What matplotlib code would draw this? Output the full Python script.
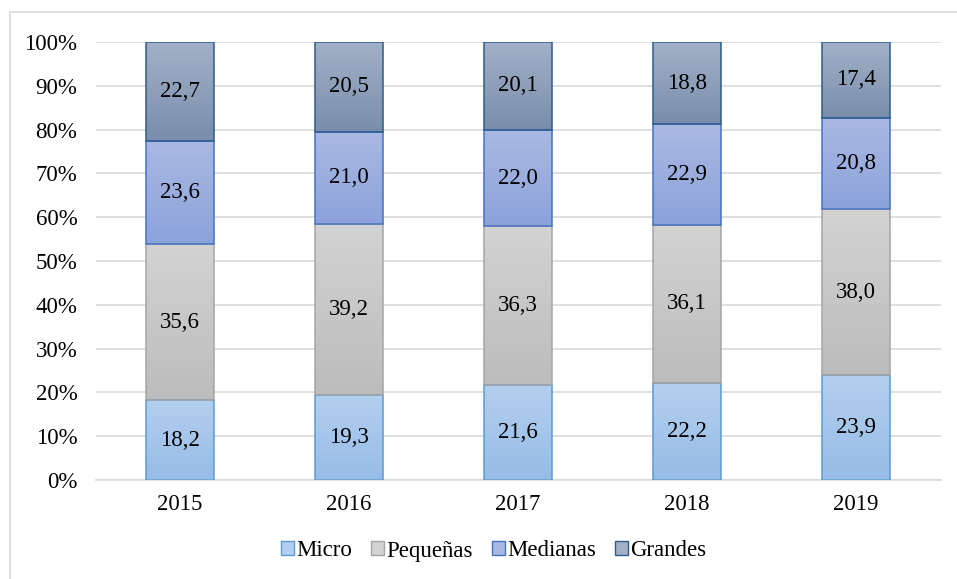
import numpy as np
import matplotlib
matplotlib.use("Agg")
import matplotlib.pyplot as plt
from matplotlib.patches import Rectangle, Patch
from matplotlib.colors import LinearSegmentedColormap
from matplotlib.ticker import FuncFormatter, MultipleLocator

plt.rcParams['font.family'] = ['Liberation Serif', 'DejaVu Serif']

years = ["2015", "2016", "2017", "2018", "2019"]
micro = [18.2, 19.3, 21.6, 22.2, 23.9]
pequenas = [35.6, 39.2, 36.3, 36.1, 38.0]
medianas = [23.6, 21.0, 22.0, 22.9, 20.8]
grandes = [22.7, 20.5, 20.1, 18.8, 17.4]

series_names = ["Micro", "Pequeñas", "Medianas", "Grandes"]
series_vals = [micro, pequenas, medianas, grandes]
# (top colour, bottom colour, edge colour)
styles = [
    ("#B3CFEF", "#97BCE6", "#5B9BD5"),
    ("#D3D3D3", "#BCBCBC", "#A5A5A5"),
    ("#AAB9E3", "#8CA2DA", "#4472C4"),
    ("#A3B1C7", "#798EAC", "#2E5D8A"),
]
FS = 16.5

fig = plt.figure(figsize=(9.57, 5.79), dpi=100)
ax = fig.add_axes([0.0998, 0.171, 0.8830, 0.7565])

# outer frame of the chart area (runs off the right and bottom edges)
fig.patches.append(Rectangle((10 / 957, -0.05), 1.1, 1.05 - 12 / 579, transform=fig.transFigure,
                             fill=False, edgecolor="#D9D9D9", linewidth=1.2, zorder=0))

x = np.arange(len(years))
width = 0.40
grad = np.linspace(0, 1, 256).reshape(-1, 1)

bottoms = np.zeros(len(years))
for name, vals, (ctop, cbot, cedge) in zip(series_names, series_vals, styles):
    cmap = LinearSegmentedColormap.from_list(name, [cbot, ctop])
    for i, v in enumerate(vals):
        b = bottoms[i]
        rect = Rectangle((x[i] - width / 2, b), width, v, facecolor="none",
                         edgecolor=cedge, linewidth=1.1, zorder=3)
        ax.add_patch(rect)
        im = ax.imshow(grad, cmap=cmap, aspect="auto", origin="lower",
                       extent=(x[i] - width / 2, x[i] + width / 2, b, b + v),
                       zorder=2, interpolation="bilinear")
        im.set_clip_path(rect)
        ax.text(x[i], b + v / 2, f"{v:.1f}".replace(".", ","), ha="center", va="center",
                fontsize=FS, color="black", zorder=4)
    bottoms += np.array(vals)

ax.set_xlim(-0.5, len(years) - 0.5)
ax.set_ylim(0, 100)
ax.set_xticks(x)
ax.set_xticklabels(years)
ax.yaxis.set_major_locator(MultipleLocator(10))
ax.yaxis.set_major_formatter(FuncFormatter(lambda v, p: f"{int(round(v))}%"))
ax.tick_params(axis="both", length=0, labelsize=FS, colors="black")
ax.tick_params(axis="y", pad=13)
ax.tick_params(axis="x", pad=10)
ax.grid(axis="y", color="#D9D9D9", linewidth=1.2, zorder=0)
ax.set_axisbelow(True)
for s in ["top", "right", "left"]:
    ax.spines[s].set_visible(False)
ax.spines["bottom"].set_color("#D9D9D9")
ax.spines["bottom"].set_linewidth(1.2)

handles = [Patch(facecolor=c[0], edgecolor=c[2], linewidth=1.0) for c in styles]
fig.legend(handles, series_names, loc="center", bbox_to_anchor=(0.516, 1 - 551 / 579),
           ncol=4, frameon=False, fontsize=FS, handlelength=0.55, handleheight=0.55,
           handletextpad=0.1, columnspacing=0.85)

fig.savefig("out.png", dpi=100)
